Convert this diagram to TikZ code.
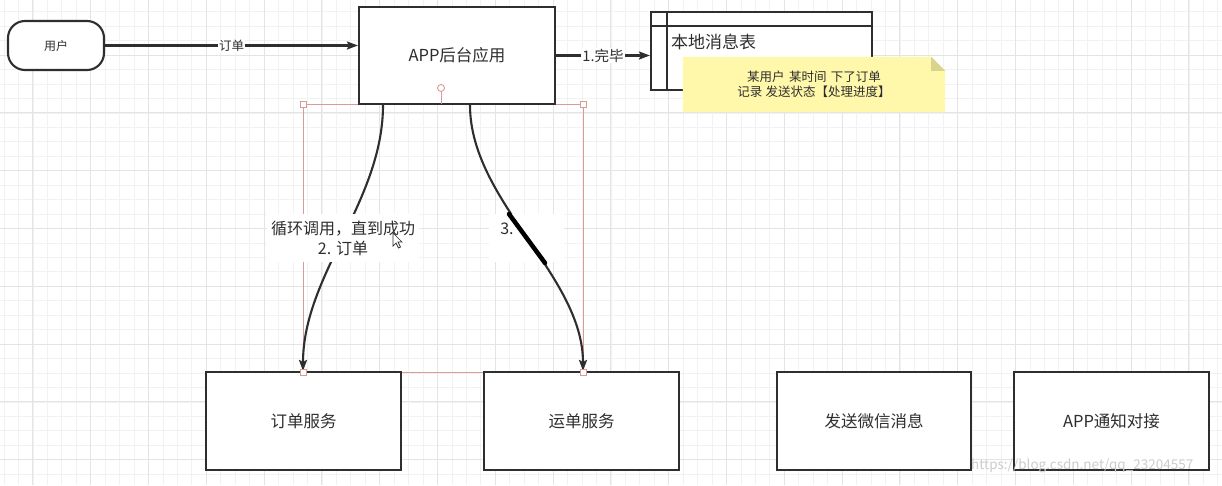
\documentclass[tikz,border=0pt]{standalone}
\usepackage{fontspec}
\setmainfont{Noto Sans CJK SC}
\usetikzlibrary{arrows.meta}
\definecolor{ink}{HTML}{2E2E2E}
\definecolor{gridminor}{HTML}{F2F2F2}
\definecolor{gridmajor}{HTML}{E4E4E4}
\definecolor{selpink}{HTML}{D99A9A}
\definecolor{notefill}{HTML}{FFF8AA}
\definecolor{notefold}{HTML}{D9D38C}
\tikzset{
  boxnode/.style={draw=ink, line width=2.1pt, fill=white, inner sep=0pt, text=ink},
  conn/.style={draw=ink, line width=2.1pt, -{Stealth[length=11pt,width=8pt,inset=2pt]}},
  edgelbl/.style={fill=white, inner sep=1pt, text=ink},
  handle/.style={draw=selpink, fill=white, line width=0.9pt, minimum size=6pt, inner sep=0pt},
}
\begin{document}
\begin{tikzpicture}[x=1pt,y=-1pt]
\useasboundingbox (0,0) rectangle (1222,485);
\fill[white] (0,0) rectangle (1222,485);
% grid
\foreach \i in {0,...,84} {\draw[gridminor, line width=0.8pt] ({4.0+\i*14.45},0) -- ++(0,485);}
\foreach \j in {0,...,33} {\draw[gridminor, line width=0.8pt] (0,{11.75+\j*14.45}) -- ++(1222,0);}
\foreach \i in {0,...,21} {\draw[gridmajor, line width=0.9pt] ({32.9+\i*57.8},0) -- ++(0,485);}
\foreach \j in {0,...,7} {\draw[gridmajor, line width=0.9pt] (0,{55.1+\j*57.8}) -- ++(1222,0);}

% selection frame
\draw[selpink, line width=1pt] (303,104) rectangle (583,372);

% nodes
\node[boxnode, rounded corners=17pt, minimum width=96pt, minimum height=49pt, font=\fontsize{12}{14}\selectfont] (user) at (56,45.5) {用户};
\node[boxnode, minimum width=196pt, minimum height=97pt, font=\fontsize{16.5}{20}\selectfont] (app) at (457,55.5) {APP后台应用};
\node[boxnode, minimum width=221pt, minimum height=78pt] (table) at (761.5,51) {};
\draw[ink, line width=2.1pt] ([yshift=-15pt]table.north west) -- ([yshift=-15pt]table.north east);
\draw[ink, line width=2.1pt] ([xshift=17pt]table.north west) -- ([xshift=17pt]table.south west);
\node[anchor=west, inner sep=0pt, text=ink, font=\fontsize{17}{20}\selectfont] (tabletitle) at (671,42) {本地消息表};

% note
\node[minimum width=262pt, minimum height=55pt, inner sep=0pt] (note) at (814,84.5) {};
\fill[notefill] (note.north west) -- ([xshift=-14pt]note.north east) -- ([yshift=-14pt]note.north east) -- (note.south east) -- (note.south west) -- cycle;
\fill[notefold] ([xshift=-14pt]note.north east) -- ([xshift=-14pt,yshift=-14pt]note.north east) -- ([yshift=-14pt]note.north east) -- cycle;
\node[align=center, text=ink, font=\fontsize{12.5}{15}\selectfont, inner sep=0pt] (notetext) at (814,84.5) {某用户\hspace{0.35em}某时间\hspace{0.35em}下了订单\\记录\hspace{0.25em}发送状态【处理进度】};

% bottom boxes
\node[boxnode, minimum width=195pt, minimum height=98pt, font=\fontsize{16.5}{20}\selectfont] (ord) at (303.5,421) {订单服务};
\node[boxnode, minimum width=195pt, minimum height=98pt, font=\fontsize{16.5}{20}\selectfont] (way) at (581.5,421) {运单服务};
\node[boxnode, minimum width=194pt, minimum height=98pt, font=\fontsize{16.5}{20}\selectfont] (wx) at (874,421) {发送微信消息};
\node[boxnode, minimum width=195pt, minimum height=98pt, font=\fontsize{16.5}{20}\selectfont] (notify) at (1111.5,421) {APP通知对接};

% connectors
\draw[conn] (user.east) -- node[edgelbl, font=\fontsize{12.5}{14}\selectfont] {订单} (app.west |- user.east);
\draw[conn] (app.east) -- node[edgelbl, font=\fontsize{14.5}{16}\selectfont] {1.完毕} (table.west |- app.east);
\draw[conn] ([xshift=-74pt]app.south) .. controls +(0,96) and +(0,-96) .. node[edgelbl, minimum width=152pt, minimum height=48pt, align=center, font=\fontsize{16}{20}\selectfont] (lbl2) {循环调用，直到成功\\2. 订单} ([xshift=-0.5pt]ord.north);
\draw[conn] ([xshift=13pt]app.south) .. controls +(0,96) and +(0,-96) .. node[edgelbl, minimum width=75pt, minimum height=48pt] (lbl3) {} ([xshift=1.5pt]way.north);
\node[anchor=center, text=ink, inner sep=0pt, font=\fontsize{16}{20}\selectfont] (lbl3text) at (507,229) {3.};
\draw[black, line width=4.5pt, line cap=round] (509,214) -- (545,263);

% mouse cursor
\draw[ink, fill=white, line width=0.7pt] (393,233) -- (393,246) -- (396,243) -- (398.5,248) -- (400.5,247) -- (398,242) -- (402,242) -- cycle;

% selection handles
\draw[selpink, line width=1pt] (441,92) -- (441,104);
\node[draw=selpink, fill=white, circle, line width=0.9pt, minimum size=7pt, inner sep=0pt] (rot) at (441,88) {};
\node[handle] (h1) at (303,104) {};
\node[handle] (h2) at (583,104) {};
\node[handle] (h3) at (303,372) {};
\node[handle] (h4) at (583,372) {};

% watermark
\node[anchor=west, inner sep=0pt, text=gray!40, font=\fontsize{13.5}{16}\selectfont] (wm) at (971,466) {https://blog.csdn.net/qq\_23204557};
\end{tikzpicture}
\end{document}
